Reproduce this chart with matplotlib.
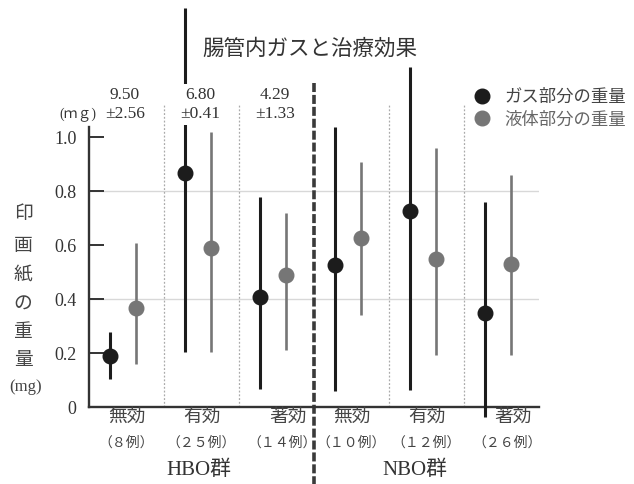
import numpy as np
import matplotlib
matplotlib.use("Agg")
import matplotlib.pyplot as plt

plt.rcParams['font.family'] = ['Liberation Serif', 'Noto Sans CJK JP', 'DejaVu Sans']

# categories
groups = ['無効', '有効', '著効', '無効', '有効', '著効']
counts = ['（８例）', '（２５例）', '（１４例）', '（１０例）', '（１２例）', '（２６例）']
sides = ['HBO群', 'NBO群']
hbo_notes = ['9.50\n±2.56', '6.80\n±0.41', '4.29\n±1.33']

# gas part weight (mg): point, lower end, upper end
gas_mean = [0.19, 0.866, 0.407, 0.526, 0.727, 0.349]
gas_low = [0.104, 0.203, 0.066, 0.06, 0.063, -0.036]
gas_high = [0.279, 1.478, 0.779, 1.038, 1.258, 0.759]

# liquid part weight (mg)
liq_mean = [0.368, 0.588, 0.488, 0.627, 0.548, 0.528]
liq_low = [0.16, 0.203, 0.211, 0.341, 0.193, 0.193]
liq_high = [0.608, 1.017, 0.717, 0.909, 0.958, 0.859]

yticks = [0, 0.2, 0.4, 0.6, 0.8, 1.0]
ytick_labels = ['0', '0.2', '0.4', '0.6', '0.8', '1.0']

W, H = 634, 484
def fx(px):
    return px / W
def fy(py):
    return 1 - py / H

black = '#1c1c1c'
gray = '#767676'
text_c = '#333333'

fig = plt.figure(figsize=(W / 100, H / 100), dpi=100)
ax = fig.add_axes([fx(89), fy(407), 450 / W, 280.8 / H])
ax.set_xlim(0, 6)
ax.set_ylim(0, 1.04)

x = np.arange(len(groups)) + 0.5
xg = x - 0.22
xl = x + 0.13

# light grid at 0.4 and 0.8
for g in [0.4, 0.8]:
    ax.axhline(g, color='#d8d8d8', lw=1.0, zorder=0)

# dotted category boundaries
for b in [1, 2, 4, 5]:
    ax.plot([b, b], [0, 1.118], color='#aaaaaa', lw=0.9, ls=(0, (1.5, 1.5)),
            clip_on=False, zorder=1)

# dashed separator between HBO and NBO
ax.plot([3, 3], [1.2, -0.285], color='#3a3a3a', lw=2.6, ls=(0, (2.5, 0.8)),
        clip_on=False, zorder=2)

# error bars
ax.vlines(xg, gas_low, gas_high, color=black, lw=2.2, clip_on=False, zorder=3)
ax.vlines(xl, liq_low, liq_high, color=gray, lw=1.9, clip_on=False, zorder=3)
ax.plot(xg, gas_mean, 'o', color=black, ms=10.5, clip_on=False, zorder=4,
        label='ガス部分の重量')
ax.plot(xl, liq_mean, 'o', color=gray, ms=10.5, clip_on=False, zorder=4,
        label='液体部分の重量')

# notes above HBO groups
for i, note in enumerate(hbo_notes):
    ax.text(x[i] - 0.02, 1.12, note, ha='center', va='center', fontsize=12.5,
            color=text_c, linespacing=1.25, zorder=6,
            bbox=dict(boxstyle='square,pad=0.15', fc='white', ec='none'))

# spines and ticks
for s in ['top', 'right']:
    ax.spines[s].set_visible(False)
ax.spines['left'].set_bounds(0, 1.037)
ax.spines['left'].set_color('#333333')
ax.spines['left'].set_linewidth(1.7)
ax.spines['bottom'].set_color('#333333')
ax.spines['bottom'].set_linewidth(1.7)
ax.set_yticks(yticks)
ax.set_yticklabels(ytick_labels, fontsize=13, color=text_c)
ax.tick_params(axis='y', direction='in', length=11, width=1.4, color='#333333', pad=9)
ax.set_xticks([])

# category labels (著効 sits a little to the right in the original)
for i in range(len(groups)):
    shift = 0.15 if groups[i] == '著効' else 0
    ax.text(x[i] + shift, -0.04, groups[i], ha='center', va='center', fontsize=13.5,
            color='#444444', clip_on=False)
    ax.text(x[i] + shift / 2, -0.135, counts[i], ha='center', va='center', fontsize=10,
            color='#444444', clip_on=False)
ax.text(1.47, -0.235, sides[0], ha='center', va='center', fontsize=15, color=text_c)
ax.text(4.35, -0.235, sides[1], ha='center', va='center', fontsize=15, color=text_c)

# title
fig.text(fx(310), fy(50), '腸管内ガスと治療効果', ha='center', va='center',
         fontsize=15.5, color=text_c)

# y label, stacked vertically
for ch, py in zip('印画紙の重量', [215, 246, 276, 305, 332, 360]):
    fig.text(fx(23), fy(py), ch, ha='center', va='center', fontsize=13.5, color='#444444')
fig.text(fx(26), fy(387), '(mg)', ha='center', va='center', fontsize=12, color='#444444')
fig.text(fx(78), fy(115), '(ｍｇ)', ha='center', va='center', fontsize=10, color=text_c)

# legend
ax.legend(loc='upper left', bbox_to_anchor=(fx(466), fy(83)),
          bbox_transform=fig.transFigure, frameon=False, fontsize=12.5,
          handlelength=1.0, handletextpad=0.8, labelspacing=0.35,
          labelcolor=['#444444', '#666666'], borderaxespad=0)

fig.savefig('out.png', dpi=100, facecolor='white')
